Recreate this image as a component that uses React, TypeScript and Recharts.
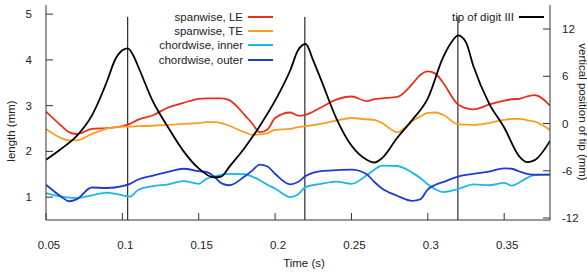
import { Label, Line, LineChart, ReferenceLine, XAxis, YAxis } from "recharts";

const FONT = '"Liberation Sans", Arial, sans-serif';

// wing measurements (left axis, mm)
const wingTime = [
  0.05, 0.06, 0.065, 0.07, 0.08, 0.09, 0.1, 0.105, 0.11, 0.12, 0.13, 0.14, 0.15, 0.155, 0.16, 0.165,
  0.17, 0.18, 0.185, 0.19, 0.195, 0.2, 0.21, 0.215, 0.22, 0.23, 0.24, 0.25, 0.26, 0.265, 0.27, 0.28,
  0.29, 0.295, 0.3, 0.305, 0.31, 0.32, 0.33, 0.34, 0.35, 0.355, 0.36, 0.365, 0.37, 0.38,
];
const spanwiseLE = [
  2.87, 2.56, 2.42, 2.38, 2.49, 2.51, 2.55, 2.6, 2.69, 2.79, 2.96, 3.06, 3.15, 3.16, 3.16, 3.16,
  3.12, 2.8, 2.61, 2.42, 2.48, 2.73, 2.85, 2.78, 2.8, 2.96, 3.13, 3.2, 3.1, 3.14, 3.16, 3.19,
  3.48, 3.67, 3.75, 3.7, 3.5, 3.02, 2.92, 3.02, 3.11, 3.14, 3.15, 3.2, 3.23, 3.0,
];
const spanwiseTE = [
  2.49, 2.29, 2.24, 2.24, 2.38, 2.5, 2.54, 2.54, 2.55, 2.56, 2.58, 2.6, 2.62, 2.64, 2.64, 2.62,
  2.56, 2.42, 2.36, 2.37, 2.4, 2.47, 2.49, 2.53, 2.55, 2.6, 2.67, 2.73, 2.7, 2.69, 2.62, 2.42,
  2.67, 2.76, 2.84, 2.85, 2.8, 2.59, 2.58, 2.62, 2.69, 2.71, 2.71, 2.68, 2.65, 2.47,
];
const chordwiseInner = [
  1.09, 1.01, 0.99, 0.98, 1.04, 1.1, 1.04, 1.01, 1.15, 1.24, 1.28, 1.35, 1.29, 1.4, 1.45, 1.49,
  1.51, 1.5, 1.45, 1.37, 1.27, 1.19, 1.0, 1.06, 1.22, 1.29, 1.34, 1.29, 1.48, 1.6, 1.69, 1.68,
  1.53, 1.42, 1.28, 1.17, 1.11, 1.18, 1.28, 1.26, 1.31, 1.25, 1.32, 1.42, 1.48, 1.49,
];
const chordwiseOuter = [
  1.27, 1.01, 0.91, 0.95, 1.21, 1.2, 1.24, 1.29, 1.38, 1.47, 1.55, 1.62, 1.57, 1.55, 1.45, 1.3,
  1.26, 1.45, 1.58, 1.71, 1.67, 1.51, 1.28, 1.33, 1.46, 1.57, 1.59, 1.6, 1.5, 1.33, 1.19, 1.03,
  0.92, 0.95, 1.17, 1.27, 1.33, 1.45, 1.51, 1.56, 1.63, 1.62, 1.56, 1.51, 1.49, 1.49,
];

// vertical position of the digit tip (right axis, mm)
const tipTime = [
  0.05, 0.06, 0.07, 0.08, 0.09, 0.095, 0.1, 0.1035, 0.107, 0.11, 0.12, 0.13, 0.14, 0.15, 0.16,
  0.165, 0.17, 0.18, 0.19, 0.2, 0.21, 0.215, 0.22, 0.225, 0.23, 0.24, 0.25, 0.26, 0.265, 0.27,
  0.28, 0.29, 0.3, 0.31, 0.315, 0.32, 0.325, 0.33, 0.34, 0.35, 0.36, 0.365, 0.37, 0.38,
];
const tipDigit3 = [
  -4.6, -3.2, -1.6, 1.0, 5.4, 8.0, 9.3, 9.55, 8.7, 7.4, 2.8, -0.5, -3.5, -5.7, -6.85,
  -6.7, -5.5, -3.1, -0.3, 2.9, 6.8, 9.3, 10.1, 8.0, 5.6, 0.7, -2.8, -4.6, -4.95, -4.4,
  -1.8, 0.5, 3.2, 8.4, 10.2, 11.2, 10.3, 7.2, 2.6, -0.5, -4.2, -4.9, -4.65, -2.2,
];

const peakTimes = [0.1035, 0.2195, 0.3197];
const timeTicks = [0.05, 0.1, 0.15, 0.2, 0.25, 0.3, 0.35];
const lengthTicks = [1, 2, 3, 4, 5];
const tipTicks = [-12, -6, 0, 6, 12];

const wingSeries = [
  { key: "le", name: "spanwise, LE", color: "#e8301c", values: spanwiseLE },
  { key: "te", name: "spanwise, TE", color: "#fb9d1f", values: spanwiseTE },
  { key: "inner", name: "chordwise, inner", color: "#1cb6ea", values: chordwiseInner },
  { key: "outer", name: "chordwise, outer", color: "#1c3cd2", values: chordwiseOuter },
];

const wingData = wingTime.map((t, i) => {
  const row: Record<string, number> = { t };
  for (const s of wingSeries) row[s.key] = s.values[i];
  return row;
});
const tipData = tipTime.map((t, i) => ({ t, tip: tipDigit3[i] }));

const tickStyle = { fontSize: 11.5, fill: "#222", fontFamily: FONT };

function LegendRow({ name, color }: { name: string; color: string }) {
  return (
    <div style={{ display: "flex", alignItems: "center", justifyContent: "flex-end", height: 14.4 }}>
      <span style={{ fontSize: 11.5, color: "#222", lineHeight: "14px", whiteSpace: "nowrap" }}>{name}</span>
      <span style={{ display: "inline-block", width: 25, height: 2, background: color, marginLeft: 5 }} />
    </div>
  );
}

export default function App() {
  return (
    <div style={{ position: "absolute", left: 0, top: 0, width: 587, height: 274, fontFamily: FONT }}>
      <LineChart width={587} height={274} data={wingData} margin={{ top: 5, right: 0, bottom: 4, left: 0 }}>
        <XAxis
          xAxisId="bottom"
          dataKey="t"
          type="number"
          domain={[0.05, 0.38]}
          allowDataOverflow
          ticks={timeTicks}
          interval={0}
          height={50}
          tickSize={-7}
          tickMargin={28}
          tick={{ ...tickStyle, dx: 3 }}
          stroke="#333"
        >
          <Label
            content={({ viewBox }: any) => (
              <text
                x={viewBox.x + viewBox.width / 2 + 6}
                y={viewBox.y + 46.5}
                textAnchor="middle"
                fontSize={11.5}
                fill="#222"
                fontFamily={FONT}
              >
                Time (s)
              </text>
            )}
          />
        </XAxis>
        <XAxis
          xAxisId="top"
          orientation="top"
          type="number"
          domain={[0.05, 0.38]}
          allowDataOverflow
          ticks={timeTicks}
          height={0}
          tickSize={-7}
          tick={false}
          stroke="#333"
        />
        <YAxis
          yAxisId="left"
          type="number"
          domain={[0.5, 5.2]}
          allowDataOverflow
          ticks={lengthTicks}
          interval={0}
          width={46}
          tickSize={-7}
          tickMargin={21}
          tick={tickStyle}
          stroke="#333"
        >
          <Label
            content={({ viewBox }: any) => {
              const x = viewBox.x + 15;
              const y = viewBox.y + viewBox.height / 2 + 18.5;
              return (
                <text x={x} y={y} transform={`rotate(-90 ${x} ${y})`} textAnchor="middle" fontSize={11.5} fill="#222" fontFamily={FONT}>
                  length (mm)
                </text>
              );
            }}
          />
        </YAxis>
        <YAxis
          yAxisId="right"
          orientation="right"
          type="number"
          domain={[-12.25, 15.05]}
          allowDataOverflow
          ticks={tipTicks}
          interval={0}
          width={37}
          tickSize={-7}
          tickMargin={19}
          tick={tickStyle}
          stroke="#333"
        >
          <Label
            content={({ viewBox }: any) => {
              const x = viewBox.x + 28.5;
              const y = viewBox.y + viewBox.height / 2 - 0.5;
              return (
                <text x={x} y={y} transform={`rotate(90 ${x} ${y})`} textAnchor="middle" fontSize={11.5} fill="#222" fontFamily={FONT}>
                  vertical position of tip (mm)
                </text>
              );
            }}
          />
        </YAxis>

        {peakTimes.map((t) => (
          <ReferenceLine
            key={t}
            xAxisId="bottom"
            yAxisId="left"
            segment={[
              { x: t, y: 0.5 },
              { x: t, y: 4.94 },
            ]}
            stroke="#000"
            strokeWidth={1}
          />
        ))}

        {wingSeries.map((s) => (
          <Line
            key={s.key}
            xAxisId="bottom"
            yAxisId="left"
            dataKey={s.key}
            name={s.name}
            type="monotone"
            stroke={s.color}
            strokeWidth={1.8}
            dot={false}
            isAnimationActive={false}
          />
        ))}
        <Line
          xAxisId="bottom"
          yAxisId="right"
          data={tipData}
          dataKey="tip"
          name="tip of digit III"
          type="monotone"
          stroke="#000"
          strokeWidth={1.8}
          dot={false}
          isAnimationActive={false}
        />
      </LineChart>

      <div style={{ position: "absolute", left: 120, top: 9.5, width: 153 }}>
        {wingSeries.map((s) => (
          <LegendRow key={s.key} name={s.name} color={s.color} />
        ))}
      </div>
      <div style={{ position: "absolute", left: 400, top: 9.5, width: 144 }}>
        <LegendRow name="tip of digit III" color="#000" />
      </div>
    </div>
  );
}
